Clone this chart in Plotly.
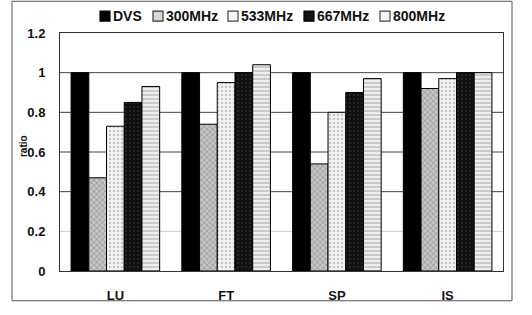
import plotly.graph_objects as go

categories = ["LU", "FT", "SP", "IS"]
series_names = ["DVS", "300MHz", "533MHz", "667MHz", "800MHz"]
dvs = [1.0, 1.0, 1.0, 1.0]
mhz300 = [0.47, 0.74, 0.54, 0.92]
mhz533 = [0.73, 0.95, 0.80, 0.97]
mhz667 = [0.85, 1.00, 0.90, 1.00]
mhz800 = [0.93, 1.04, 0.97, 1.00]
values = [dvs, mhz300, mhz533, mhz667, mhz800]
grid_levels = [0.2, 0.4, 0.6, 0.8, 1.0]
grid_colors = ["#cccccc", "#444444", "#444444", "#444444", "#444444"]
y_title = "ratio"

styles = [
    dict(color="#000000", pattern=dict(shape=""), key_fill="#000000", key_line="#000000"),
    dict(color="#a0a0a0", pattern=dict(shape="x", fgcolor="#606060", bgcolor="#c4c4c4", size=4, solidity=0.3),
         key_fill="#d8d8d8", key_line="#333333"),
    dict(color="#eeeeee", pattern=dict(shape=".", fgcolor="#9a9a9a", bgcolor="#f2f2f2", size=4, solidity=0.3),
         key_fill="#f8f8f8", key_line="#444444"),
    dict(color="#1a1a1a", pattern=dict(shape=".", fgcolor="#444444", bgcolor="#111111", size=4, solidity=0.2),
         key_fill="#111111", key_line="#000000"),
    dict(color="#dddddd", pattern=dict(shape="-", fgcolor="#8a8a8a", bgcolor="#eeeeee", size=4, solidity=0.35),
         key_fill="#f4f4f4", key_line="#444444"),
]

font_family = "Liberation Sans, Arial, sans-serif"

# plot-area geometry in pixels (for placing the custom legend)
W, H = 532, 315
ML, MR, MT, MB = 60, 29, 33, 42
PW, PH = W - ML - MR, H - MT - MB
def px_x(px):
    return (px - ML) / PW
def px_y(py):
    return (H - MB - py) / PH

legend_key_left = [100, 153, 228, 304, 380]

fig = go.Figure()
for name, vals, st in zip(series_names, values, styles):
    fig.add_trace(go.Bar(
        name=name, x=categories, y=vals, showlegend=False,
        marker=dict(color=st["color"], pattern=st["pattern"],
                    line=dict(color="#000000", width=1)),
    ))

shapes = [dict(type="rect", xref="paper", yref="paper",
               x0=px_x(12), x1=px_x(512), y0=px_y(303), y1=px_y(1),
               line=dict(color="#555555", width=1), layer="below")]
for lv, gc in zip(grid_levels, grid_colors):
    shapes.append(dict(type="line", xref="paper", yref="y", x0=0, x1=1, y0=lv, y1=lv,
                       line=dict(color=gc, width=1), layer="below"))

annotations = [dict(xref="paper", yref="paper", x=px_x(23), y=px_y(147),
                    xanchor="center", yanchor="middle", showarrow=False, textangle=-90,
                    text=y_title, font=dict(size=10, weight="bold", color="#111111"))]
for name, st, kx in zip(series_names, styles, legend_key_left):
    shapes.append(dict(type="rect", xref="paper", yref="paper",
                       x0=px_x(kx), x1=px_x(kx + 10), y0=px_y(21), y1=px_y(11),
                       fillcolor=st["key_fill"], line=dict(color=st["key_line"], width=1.2)))
    annotations.append(dict(xref="paper", yref="paper", x=px_x(kx + 11), y=px_y(16),
                            xanchor="left", yanchor="middle", showarrow=False,
                            text=name, font=dict(size=14, weight="bold", color="#111111")))

fig.update_layout(
    width=W, height=H,
    margin=dict(l=ML, r=MR, t=MT, b=MB),
    paper_bgcolor="white", plot_bgcolor="white",
    barmode="group", bargap=0.2, bargroupgap=0,
    font=dict(family=font_family, color="#111111"),
    showlegend=False,
    xaxis=dict(showgrid=False, showline=True, linecolor="#333333", linewidth=1, mirror=True,
               tickfont=dict(size=13, weight="bold"), ticks="", ticklabelstandoff=12),
    yaxis=dict(range=[0, 1.2], dtick=0.2, tickformat="~g",
               showgrid=False,
               showline=True, linecolor="#333333", linewidth=1, mirror=True,
               tickfont=dict(size=13, weight="bold"), ticks="", ticklabelstandoff=11,
               zeroline=False),
    shapes=shapes,
    annotations=annotations,
)

fig.write_html("out.html")
